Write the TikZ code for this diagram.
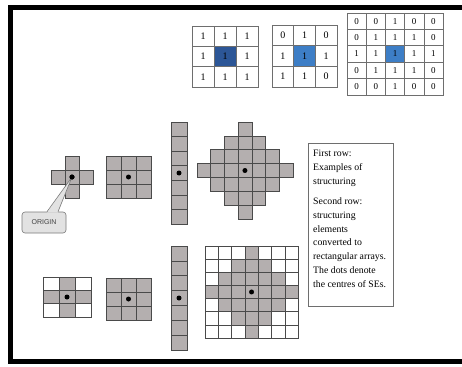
\documentclass[tikz,border=0pt]{standalone}
\usepackage{fontspec}
\setmainfont{Liberation Serif}
\newfontfamily\sansf{Liberation Sans}
\definecolor{segray}{HTML}{B4AFAF}
\definecolor{seline}{HTML}{4A4A4A}
\definecolor{mline}{HTML}{6E6E6E}
\definecolor{bluedark}{HTML}{2C5697}
\definecolor{bluelight}{HTML}{3D7EC6}
\definecolor{callfill}{HTML}{E2E2E2}
\definecolor{callline}{HTML}{7A7A7A}
\begin{document}
\begin{tikzpicture}[x=1pt,y=-1pt,
  secell/.style={fill=segray,draw=seline,line width=0.6pt},
  wcell/.style={fill=white,draw=seline,line width=0.6pt},
  mnum/.style={draw=mline,line width=0.6pt,inner sep=0pt,font=\fontsize{10}{11}\selectfont},
  cdot/.style={circle,fill=black,inner sep=0pt,minimum size=5pt},
  txt/.style={anchor=base west,inner sep=0pt,font=\fontsize{9.8}{11}\selectfont}]
\useasboundingbox (0,0) rectangle (462,366);
\fill[white] (0,0) rectangle (462,366);
% frame
\draw[line width=5pt,line join=miter] (462,7.5) -- (10.5,7.5) -- (10.5,361.5) -- (462,361.5);

% ---------- top row matrices ----------
\fill[bluedark] (192+22,26+20.33) rectangle ++(22,20.33);
\foreach \v [count=\i from 0] in {1,1,1,1,1,1,1,1,1}{
  \pgfmathtruncatemacro{\r}{int(\i/3)}
  \pgfmathtruncatemacro{\c}{mod(\i,3)}
  \node[mnum,minimum width=22pt,minimum height=20.33pt] (ma-\i) at (192+\c*22+11,26+\r*20.33+10.165) {\v};
}
\fill[bluelight] (272+21.67,25+20.67) rectangle ++(21.67,20.67);
\foreach \v [count=\i from 0] in {0,1,0,1,1,1,1,1,0}{
  \pgfmathtruncatemacro{\r}{int(\i/3)}
  \pgfmathtruncatemacro{\c}{mod(\i,3)}
  \node[mnum,minimum width=21.67pt,minimum height=20.67pt] (mb-\i) at (272+\c*21.67+10.835,25+\r*20.67+10.335) {\v};
}
\fill[bluelight] (347+2*19.2,13+2*16.4) rectangle ++(19.2,16.4);
\foreach \v [count=\i from 0] in {0,0,1,0,0, 0,1,1,1,0, 1,1,1,1,1, 0,1,1,1,0, 0,0,1,0,0}{
  \pgfmathtruncatemacro{\r}{int(\i/5)}
  \pgfmathtruncatemacro{\c}{mod(\i,5)}
  \node[mnum,minimum width=19.2pt,minimum height=16.4pt,font=\fontsize{9}{10}\selectfont] (mc-\i) at (347+\c*19.2+9.6,13+\r*16.4+8.2) {\v};
}

% ---------- second row: structuring elements ----------
% cross
\foreach \px/\py in {65/156,51/170,65/170,79/170,65/184}
  \filldraw[secell] (\px,\py) rectangle ++(14,14);
\node[cdot] (d1) at (72,177) {};
% 3x3
\foreach \r in {0,1,2}\foreach \c in {0,1,2}
  \filldraw[secell] (106+\c*15,156+\r*14) rectangle ++(15,14);
\node[cdot] (d2) at (128.5,177) {};
% vertical line
\foreach \r in {0,...,6}
  \filldraw[secell] (171,122+\r*14.57) rectangle ++(16,14.57);
\node[cdot] (d3) at (179,173) {};
% diamond
\foreach \r in {0,...,6}\foreach \c in {0,...,6}{
  \pgfmathtruncatemacro{\dd}{abs(\r-3)+abs(\c-3)}
  \ifnum\dd<4 \filldraw[secell] (197+\c*13.7,122+\r*13.86) rectangle ++(13.7,13.86);\fi
}
\node[cdot] (d4) at (197+3.5*13.7,122+3.5*13.86) {};

% callout
\node[draw=callline,fill=callfill,rounded corners=3pt,line width=0.6pt,minimum width=44pt,minimum height=21pt,inner sep=0pt,
  font=\sansf\fontsize{7}{8}\selectfont,text=black!75] (origin) at (44,222.5) {ORIGIN};
\fill[callfill] ([xshift=3pt,yshift=-1pt]origin.north) -- (d1.center) -- ([xshift=14pt,yshift=-1pt]origin.north) -- cycle;
\draw[callline,line width=0.6pt] ([xshift=3pt]origin.north) -- (d1.center) -- ([xshift=14pt]origin.north);
\node[cdot] at (d1) {};

% ---------- third row: rectangular arrays ----------
\foreach \r in {0,1,2}\foreach \c in {0,1,2}{
  \pgfmathtruncatemacro{\dd}{abs(\r-1)+abs(\c-1)}
  \ifnum\dd<2 \filldraw[secell] (43+\c*16,277+\r*13.33) rectangle ++(16,13.33);
  \else \filldraw[wcell] (43+\c*16,277+\r*13.33) rectangle ++(16,13.33);\fi
}
\node[cdot] (e1) at (67,297) {};
\foreach \r in {0,1,2}\foreach \c in {0,1,2}
  \filldraw[secell] (106+\c*15,278+\r*14) rectangle ++(15,14);
\node[cdot] (e2) at (128.5,299) {};
\foreach \r in {0,...,6}
  \filldraw[secell] (171,246+\r*14.86) rectangle ++(16,14.86);
\node[cdot] (e3) at (179,298) {};
\foreach \r in {0,...,6}\foreach \c in {0,...,6}{
  \pgfmathtruncatemacro{\dd}{abs(\r-3)+abs(\c-3)}
  \ifnum\dd<4 \filldraw[secell] (205+\c*13.3,246+\r*13.14) rectangle ++(13.3,13.14);
  \else \filldraw[wcell] (205+\c*13.3,246+\r*13.14) rectangle ++(13.3,13.14);\fi
}
\node[cdot] (e4) at (205+3.5*13.3,246+3.5*13.14) {};

% ---------- legend box ----------
\draw[draw=mline,line width=0.7pt] (308,143) rectangle (393,306);
\foreach \t/\yy [count=\k] in {First row:/157,Examples of/170.7,structuring/184.7,Second row:/204.7,structuring/218.7,elements/232.3,converted to/245.7,rectangular arrays./259.7,The dots denote/273,the centres of SEs./287}
  \node[txt] (t\k) at (313,\yy) {\t};
\end{tikzpicture}
\end{document}
